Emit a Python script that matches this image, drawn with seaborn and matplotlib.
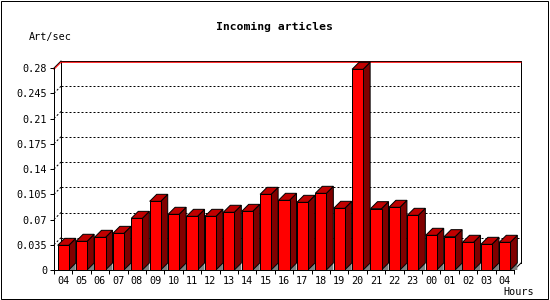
import numpy as np
import pandas as pd
import seaborn as sns
import matplotlib.pyplot as plt
from matplotlib.patches import Polygon, Rectangle

# hourly incoming article rate (articles per second)
hours = ["04", "05", "06", "07", "08", "09", "10", "11", "12", "13", "14", "15", "16",
         "17", "18", "19", "20", "21", "22", "23", "00", "01", "02", "03", "04"]
rate = [0.0342, 0.0398, 0.0453, 0.0508, 0.0716, 0.0952, 0.0772, 0.0744, 0.0744, 0.0800,
        0.0813, 0.1049, 0.0966, 0.0938, 0.1063, 0.0855, 0.2782, 0.0850, 0.0869, 0.0758,
        0.0481, 0.0462, 0.0384, 0.0356, 0.0384]
yticks = [0, 0.035, 0.07, 0.105, 0.14, 0.175, 0.21, 0.245, 0.28]
ytick_labels = ["0", "0.035", "0.07", "0.105", "0.14", "0.175", "0.21", "0.245", "0.28"]

plt.rcParams['font.family'] = ['DejaVu Sans Mono']
PX = 0.72  # one pixel in points at dpi 100

W, H = 550, 300
fig = plt.figure(figsize=(W / 100, H / 100), dpi=100)
# front plane of the chart, in pixels: x 54..514, y 68..270
ax = fig.add_axes([54 / W, (H - 270) / H, 460 / W, 202 / H])

df = pd.DataFrame({"slot": np.arange(len(rate)), "rate": rate})
sns.barplot(data=df, x="slot", y="rate", color="#ff0000", saturation=1, width=0.6,
            edgecolor="black", linewidth=PX, ax=ax, zorder=5)

xmin, xmax = -0.5, len(rate) - 0.5
ymin, ymax = yticks[0], yticks[-1]
ax.set_xlim(xmin, xmax)
ax.set_ylim(ymin, ymax)

# depth offset of the 3d effect: 7 px right, 7 px up
depth = 7
dx = depth * (xmax - xmin) / 460
dy = depth * (ymax - ymin) / 202

# back wall with dotted grid lines
for v in yticks[1:-1]:
    ax.plot([xmin + dx, xmax + dx], [v + dy, v + dy], color="black", lw=PX,
            ls=(0, (2, 2)), clip_on=False, zorder=1)
    ax.plot([xmin, xmin + dx], [v, v + dy], color="black", lw=PX,
            ls=(0, (2, 2)), clip_on=False, zorder=1)
ax.plot([xmin + dx, xmin + dx, xmax + dx, xmax + dx],
        [dy, ymax + dy, ymax + dy, dy], color="black", lw=PX, clip_on=False, zorder=1)
ax.plot([xmin, xmin + dx], [ymax, ymax + dy], color="black", lw=PX, clip_on=False, zorder=1)
ax.plot([xmax, xmax + dx], [ymin, ymin + dy], color="black", lw=PX, clip_on=False, zorder=1)

# red line at the peak value
peak = max(rate)
ax.plot([xmin, xmin + dx, xmax + dx], [peak, peak + dy, peak + dy], color="#ff0000",
        lw=PX, clip_on=False, zorder=2)

# side, top and floor shadow of every bar
for p in ax.patches:
    x0 = p.get_x()
    x1 = x0 + p.get_width()
    h = p.get_height()
    ax.add_patch(Polygon([(x1, 0), (x1 + dx, dy), (x1 + dx, 0)], closed=True,
                         facecolor="#808080", edgecolor="none", zorder=3, clip_on=False))
    ax.add_patch(Polygon([(x1, 0), (x1, h), (x1 + dx, h + dy), (x1 + dx, dy)], closed=True,
                         facecolor="#800000", edgecolor="black", lw=PX, zorder=4, clip_on=False))
    ax.add_patch(Polygon([(x0, h), (x0 + dx, h + dy), (x1 + dx, h + dy), (x1, h)], closed=True,
                         facecolor="#c00000", edgecolor="black", lw=PX, zorder=4, clip_on=False))

for s in ["top", "right"]:
    ax.spines[s].set_visible(False)
for s in ["left", "bottom"]:
    ax.spines[s].set_linewidth(PX)
    ax.spines[s].set_zorder(6)

ax.set_yticks(yticks)
ax.set_yticklabels(ytick_labels)
ax.set_xticks(np.arange(len(hours)))
ax.set_xticklabels(hours)
ax.set_xticks(np.arange(xmin, xmax + 0.5, 1), minor=True)
ax.tick_params(axis="y", length=4 * PX, width=PX, pad=3 * PX, labelsize=7.3)
ax.tick_params(axis="x", which="major", length=0, pad=6 * PX, labelsize=7.3)
ax.tick_params(axis="x", which="minor", length=4 * PX, width=PX)
ax.set_xlabel("")
ax.set_ylabel("")
ax.patch.set_alpha(0)

fig.text(274 / W, 1 - 27 / H, "Incoming articles", ha="center", va="center",
         fontsize=8.2, fontweight="bold")
fig.text(50 / W, 1 - 37 / H, "Art/sec", ha="center", va="center", fontsize=7.3)
fig.text(519 / W, 1 - 292 / H, "Hours", ha="center", va="center", fontsize=7.3)

fig.add_artist(Rectangle((0.5 / W, 1.5 / H), 547 / W, 298 / H, transform=fig.transFigure,
                         fill=False, edgecolor="black", lw=PX))

fig.savefig("out.png", dpi=100)
